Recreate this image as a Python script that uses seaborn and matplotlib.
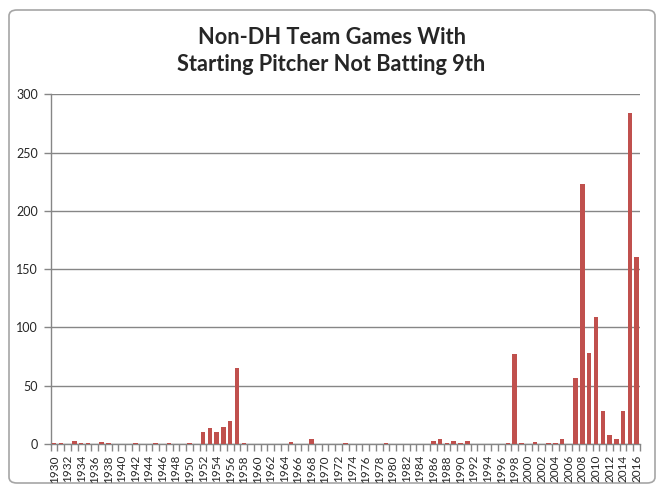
import pandas as pd
import matplotlib
matplotlib.use("Agg")
import matplotlib.pyplot as plt
from matplotlib.patches import FancyBboxPatch
from matplotlib.ticker import FixedLocator
import seaborn as sns

# season years on the x axis
years = list(range(1930, 2017))

# team games where the starting pitcher did not bat 9th, one decade per list
games_1930s = [1, 1, 0, 3, 1, 1, 0, 2, 1, 0]
games_1940s = [0, 0, 1, 0, 0, 1, 0, 1, 0, 0]
games_1950s = [1, 0, 10, 14, 10, 15, 20, 65, 1, 0]
games_1960s = [0, 0, 0, 0, 0, 2, 0, 0, 4, 0]
games_1970s = [0, 0, 0, 1, 0, 0, 0, 0, 0, 1]
games_1980s = [0, 0, 0, 0, 0, 0, 3, 4, 1, 3]
games_1990s = [1, 3, 0, 0, 0, 0, 0, 1, 77, 1]
games_2000s = [0, 2, 0, 1, 1, 4, 0, 57, 223, 78]
games_2010s = [109, 28, 8, 4, 28, 284, 160]

games = (games_1930s + games_1940s + games_1950s + games_1960s + games_1970s
         + games_1980s + games_1990s + games_2000s + games_2010s)

df = pd.DataFrame({"Year": [str(y) for y in years], "Games": games})

sns.set_style("white")
plt.rcParams["font.family"] = ["Lato", "DejaVu Sans"]

W, H = 663, 493
fig = plt.figure(figsize=(W / 100, H / 100), dpi=100)
fig.patch.set_facecolor("white")

# excel chart frame
frame = FancyBboxPatch((9 / W, 10 / H), 646 / W, 473 / H,
                       boxstyle="round,pad=0,rounding_size=0.012",
                       transform=fig.transFigure, facecolor="none",
                       edgecolor="#A6A6A6", linewidth=1.2, zorder=-1)
fig.patches.append(frame)

ax = fig.add_axes([50.7 / W, 1 - 444 / H, (640 - 50.7) / W, (444 - 94.3) / H])
ax.set_zorder(2)
ax.patch.set_alpha(0)
sns.barplot(data=df, x="Year", y="Games", color="#C0504D", saturation=1,
            width=0.66, linewidth=0, edgecolor="#C0504D", ax=ax, zorder=3)

grid_c = "#868686"
ax.set_ylim(0, 300)
ax.set_xlim(-0.5, len(years) - 0.5)
ax.set_yticks(range(0, 301, 50))
ax.yaxis.grid(True, color=grid_c, linewidth=1, zorder=0)
ax.set_axisbelow(True)
ax.tick_params(axis="y", length=5, width=1, color=grid_c, labelsize=9,
               pad=4, left=True, direction="out")

# labels on every other year, tick marks between categories
pos = list(range(0, len(years), 2))
ax.set_xticks(pos, [str(years[i]) for i in pos], rotation=90)
ax.xaxis.set_minor_locator(FixedLocator([i - 0.5 for i in range(len(years) + 1)]))
ax.tick_params(axis="x", which="major", length=0, labelsize=8.5, pad=8)
ax.tick_params(axis="x", which="minor", length=5, width=1, color=grid_c,
               bottom=True, direction="out")

for side in ["top", "right"]:
    ax.spines[side].set_visible(False)
for side in ["left", "bottom"]:
    ax.spines[side].set_color(grid_c)
    ax.spines[side].set_linewidth(1)
ax.set_xlabel("")
ax.set_ylabel("")

fig.text(331.5 / W, 1 - 51 / H, "Non-DH Team Games With\nStarting Pitcher Not Batting 9th",
         ha="center", va="center", fontsize=15.7, fontweight="bold",
         linespacing=1.33)

fig.savefig("out.png", dpi=100)
